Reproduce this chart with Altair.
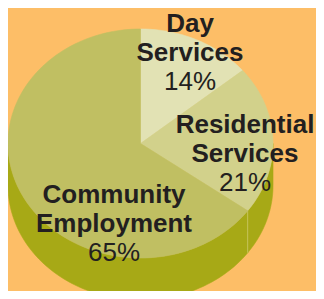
import altair as alt
import numpy as np
import pandas as pd

# ---- data ----
categories = ["Day Services", "Residential Services", "Community Employment"]
shares = [14, 21, 65]
name_lines = [["Day", "Services"], ["Residential", "Services"], ["Community", "Employment"]]
pct_labels = ["14%", "21%", "65%"]

# ---- style / layout ----
top_colors = ["#E2E2B4", "#D2D18B", "#C0BF62"]
side_color = "#A7A916"
seam_color = "#C6C45C"
bg = "#FDBE67"
text_color = "#231F20"
M = 8                      # page margin
W, H = 324 - 2 * M, 299 - 2 * M
CX, CY, RX, RY, DEPTH = 140.5, 143.5, 132.5, 114.5, 42
# label anchors (x centre, first baseline), line spacing
label_anchor = [(190, 32), (245, 133), (114, 203)]
LINE = 29


def pt(a, dy=0.0):
    r = np.radians(a)
    return CX + RX * np.sin(r), CY - RY * np.cos(r) + dy


cum = np.concatenate([[0], np.cumsum(shares)]) / sum(shares) * 360.0

rows = []
# visible side (front half of the cylinder)
for i in range(len(shares)):
    a1, a2 = max(cum[i], 90.0), min(cum[i + 1], 270.0)
    if a2 <= a1:
        continue
    angs = np.linspace(a1, a2, 80)
    pts = [pt(a) for a in angs] + [pt(a, DEPTH) for a in angs[::-1]]
    for k, (x, y) in enumerate(pts):
        rows.append(dict(poly=f"side{i}", layer="side", k=k, x=x, y=y, col=side_color))
# top faces
for i in range(len(shares)):
    n = max(int((cum[i + 1] - cum[i]) / 2) + 2, 10)
    angs = np.linspace(cum[i], cum[i + 1], n)
    pts = [(CX, CY)] + [pt(a) for a in angs]
    for k, (x, y) in enumerate(pts):
        rows.append(dict(poly=f"top{i}", layer="top", k=k, x=x, y=y, col=top_colors[i]))
shapes = pd.DataFrame(rows)

# seams on the side at slice boundaries
seam_rows = []
for j, a in enumerate(cum[1:-1]):
    if 90 < a < 270:
        for k, dy in enumerate([0, DEPTH]):
            x, y = pt(a, dy)
            seam_rows.append(dict(seam=j, k=k, x=x, y=y))
seams = pd.DataFrame(seam_rows)

# labels
trows = []
for i in range(len(shares)):
    x0, y0 = label_anchor[i]
    for j, t in enumerate(name_lines[i]):
        trows.append(dict(text=t, x=x0, y=y0 + j * LINE, bold=True))
    trows.append(dict(text=pct_labels[i], x=x0, y=y0 + len(name_lines[i]) * LINE, bold=False))
texts = pd.DataFrame(trows)

xs = alt.Scale(domain=[M, M + W], nice=False, zero=False)
ys = alt.Scale(domain=[M, M + H], nice=False, zero=False, reverse=True)
X = alt.X("x:Q", scale=xs, axis=None)
Y = alt.Y("y:Q", scale=ys, axis=None)


def poly_layer(layer):
    return alt.Chart(shapes).transform_filter(alt.datum.layer == layer).mark_line(
        interpolate="linear-closed", strokeWidth=0.6, clip=True
    ).encode(
        x=X, y=Y,
        detail="poly:N",
        order="k:Q",
        fill=alt.Fill("col:N", scale=None),
        stroke=alt.Stroke("col:N", scale=None),
    )


seam_layer = alt.Chart(seams).mark_line(color=seam_color, strokeWidth=1, clip=True).encode(
    x=X, y=Y, detail="seam:N", order="k:Q"
)

bold_text = alt.Chart(texts).transform_filter(alt.datum.bold == True).mark_text(
    font="Liberation Sans", fontSize=26, fontWeight="bold", color=text_color,
    align="center", baseline="alphabetic"
).encode(x=X, y=Y, text="text:N")

pct_text = alt.Chart(texts).transform_filter(alt.datum.bold == False).mark_text(
    font="Liberation Sans", fontSize=26, color=text_color,
    align="center", baseline="alphabetic"
).encode(x=X, y=Y, text="text:N")

chart = alt.layer(poly_layer("side"), seam_layer, poly_layer("top"), bold_text, pct_text).properties(
    width=W, height=H, background=bg, padding=0,
    autosize=alt.AutoSizeParams(type="none"),
).configure_view(stroke=None)

chart.save("out.html", embed_options={"renderer": "svg", "actions": False})
